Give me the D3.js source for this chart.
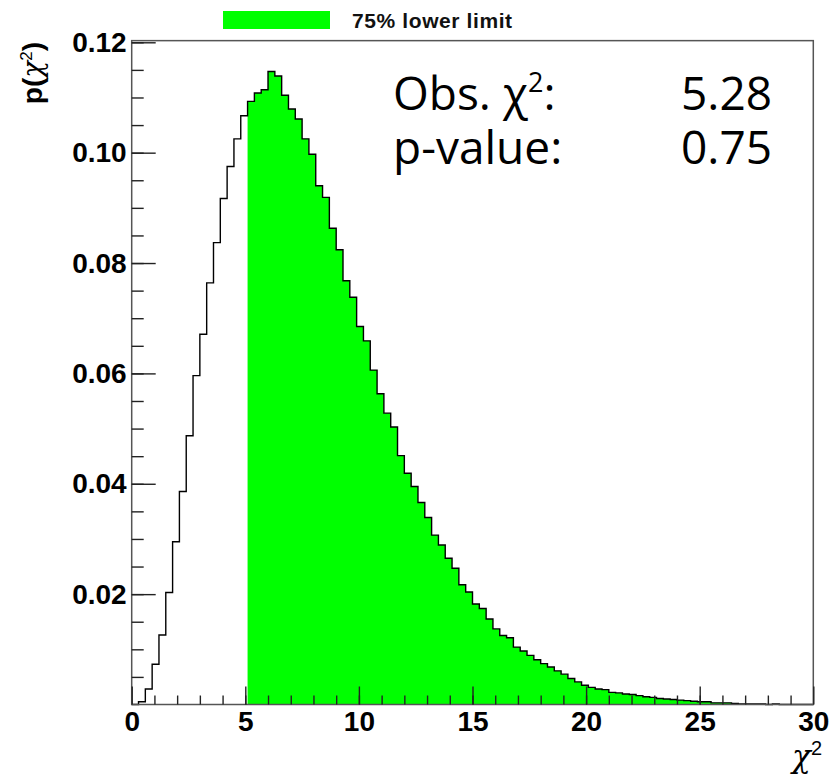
<!DOCTYPE html>
<html>
<head>
<meta charset="utf-8">
<script src="https://cdn.jsdelivr.net/npm/d3@7"></script>
<style>
  body { margin: 0; background: #fff; }
  svg { display: block; }
</style>
</head>
<body>
<div class="chart"></div>
<script>
// chi2 toy distribution, 100 bins of width 0.3 between 0 and 30
const xMin = 0
const binWidth = 0.3
const binValues = [
  0.0000, 0.0005, 0.0028, 0.0073, 0.0126, 0.0203, 0.0295, 0.0386, 0.0487, 0.0596,
  0.0671, 0.0764, 0.0837, 0.0917, 0.0975, 0.1025, 0.1067, 0.1093, 0.1108, 0.1114,
  0.1147, 0.1139, 0.1104, 0.1079, 0.1061, 0.1025, 0.0997, 0.0940, 0.0919, 0.0863,
  0.0824, 0.0768, 0.0738, 0.0685, 0.0659, 0.0606, 0.0563, 0.0528, 0.0503, 0.0451,
  0.0419, 0.0395, 0.0366, 0.0339, 0.0307, 0.0289, 0.0265, 0.0247, 0.0217, 0.0204,
  0.0182, 0.0174, 0.0155, 0.0137, 0.0125, 0.0121, 0.0104, 0.0097, 0.0089, 0.0081,
  0.0074, 0.0068, 0.0061, 0.0055, 0.0047, 0.0041, 0.0035, 0.0031, 0.0028, 0.0027,
  0.0022, 0.0021, 0.0019, 0.0018, 0.0016, 0.0014, 0.0013, 0.0011, 0.0010, 0.0009,
  0.0008, 0.0007, 0.0006, 0.0005, 0.0005, 0.0003, 0.0003, 0.0003, 0.0002, 0.0001,
  0.0001, 0.0001, 0.0001, 0.0000, 0.0001, 0.0000, 0.0000, 0.0000, 0.0000, 0.0000
]
// bins shaded green (first and last index)
const fillBins = [17, 88]

const xTickLabels = [0, 5, 10, 15, 20, 25, 30]
const yTickLabels = [0.02, 0.04, 0.06, 0.08, 0.10, 0.12]
const legendLabel = "75% lower limit"
const statNames = ["Obs. χ", "p-value:"]
const statValues = ["5.28", "0.75"]

const width = 831
const height = 779

const svg = d3.select(".chart").append("svg")
  .attr("width", width)
  .attr("height", height)

const x = d3.scaleLinear().domain([0, 30]).range([131.7, 813.3])
const y = d3.scaleLinear().domain([0, 0.12]).range([704.5, 42.3])
const yTop = y(0.1203)

function stepPoints(first, last) {
  const pts = []
  for (let i = first; i <= last; i++) {
    const x0 = xMin + i * binWidth
    pts.push([x0, binValues[i]], [x0 + binWidth, binValues[i]])
  }
  return pts
}

// green shaded part
const area = d3.area()
  .x(d => x(d[0]))
  .y0(y(0))
  .y1(d => y(d[1]))

svg.append("path")
  .attr("d", area(stepPoints(fillBins[0], fillBins[1])))
  .attr("fill", "#00ff00")

// histogram outline
const line = d3.line()
  .x(d => x(d[0]))
  .y(d => y(d[1]))

const outline = [[xMin, 0]].concat(stepPoints(0, binValues.length - 1))
outline.push([xMin + binValues.length * binWidth, 0])

svg.append("path")
  .attr("d", line(outline))
  .attr("fill", "none")
  .attr("stroke", "#000")
  .attr("stroke-width", 1.4)

// frame
svg.append("rect")
  .attr("x", x(0))
  .attr("y", yTop)
  .attr("width", x(30) - x(0))
  .attr("height", y(0) - yTop)
  .attr("fill", "none")
  .attr("stroke", "#555")
  .attr("stroke-width", 1.5)

// y axis
const yAxis = svg.append("g")
  .attr("transform", "translate(" + x(0) + ",0)")
  .call(d3.axisLeft(y).tickValues(yTickLabels).tickSizeInner(-24).tickSizeOuter(0)
    .tickPadding(5).tickFormat(d3.format(".2f")))
yAxis.append("g")
  .call(d3.axisLeft(y).tickValues(d3.range(0.005, 0.1201, 0.005)).tickSizeInner(-12)
    .tickSizeOuter(0).tickFormat(""))
yAxis.selectAll(".domain").remove()
yAxis.selectAll("line").attr("stroke", "#222").attr("stroke-width", 1.4)
yAxis.selectAll("text")
  .style("font-family", "'Liberation Sans', Arial, sans-serif")
  .style("font-weight", "bold")
  .style("font-size", "28px")
  .attr("fill", "#000")

// x axis
const xAxis = svg.append("g")
  .attr("transform", "translate(0," + y(0) + ")")
  .call(d3.axisBottom(x).tickValues(xTickLabels).tickSizeInner(-18).tickSizeOuter(0)
    .tickPadding(7).tickFormat(d3.format("d")))
xAxis.append("g")
  .call(d3.axisBottom(x).tickValues(d3.range(1, 30, 1)).tickSizeInner(-9)
    .tickSizeOuter(0).tickFormat(""))
xAxis.selectAll(".domain").remove()
xAxis.selectAll("line").attr("stroke", "#222").attr("stroke-width", 1.4)
xAxis.selectAll("text")
  .style("font-family", "'Liberation Sans', Arial, sans-serif")
  .style("font-weight", "bold")
  .style("font-size", "28px")
  .attr("fill", "#000")

// axis titles
const yTitle = svg.append("text")
  .attr("transform", "translate(42,42) rotate(-90)")
  .attr("text-anchor", "end")
  .style("font-family", "'Liberation Sans', Arial, sans-serif")
  .style("font-size", "28px")
  .attr("fill", "#000")
yTitle.append("tspan").style("font-weight", "bold").text("p(")
yTitle.append("tspan").style("font-family", "'DejaVu Serif', serif").style("font-style", "italic").text("χ")
yTitle.append("tspan").attr("dy", -10).style("font-size", "17px").text("2")
yTitle.append("tspan").attr("dy", 10).style("font-weight", "bold").text(")")

const xTitle = svg.append("text")
  .attr("x", 822)
  .attr("y", 767)
  .attr("text-anchor", "end")
  .style("font-family", "'DejaVu Serif', serif")
  .style("font-size", "31px")
  .attr("fill", "#000")
xTitle.append("tspan").style("font-style", "italic").text("χ")
xTitle.append("tspan").attr("dy", -12)
  .style("font-family", "'Liberation Sans', Arial, sans-serif").style("font-size", "20px").text("2")

// legend
svg.append("rect")
  .attr("x", 223)
  .attr("y", 11)
  .attr("width", 107)
  .attr("height", 18)
  .attr("fill", "#00ff00")

svg.append("text")
  .attr("x", 352)
  .attr("y", 28)
  .style("font-family", "'Liberation Sans', Arial, sans-serif")
  .style("font-weight", "bold")
  .style("font-size", "21px")
  .style("letter-spacing", "0.6px")
  .attr("fill", "#111")
  .text(legendLabel)

// statistics box text
const stat1 = svg.append("text")
  .attr("x", 393)
  .attr("y", 110)
  .style("font-family", "'Open Sans', sans-serif")
  .style("font-size", "46px")
  .attr("fill", "#000")
stat1.append("tspan").text(statNames[0])
stat1.append("tspan").attr("dy", -18).style("font-size", "27px").text("2")
stat1.append("tspan").attr("dy", 18).text(":")

svg.append("text")
  .attr("x", 393)
  .attr("y", 164)
  .style("font-family", "'Open Sans', sans-serif")
  .style("font-size", "46px")
  .attr("fill", "#000")
  .text(statNames[1])

statValues.forEach((v, i) => {
  svg.append("text")
    .attr("x", 772)
    .attr("y", 110 + i * 54)
    .attr("text-anchor", "end")
    .style("font-family", "'Open Sans', sans-serif")
    .style("font-size", "46px")
    .attr("fill", "#000")
    .text(v)
})
</script>
</body>
</html>
